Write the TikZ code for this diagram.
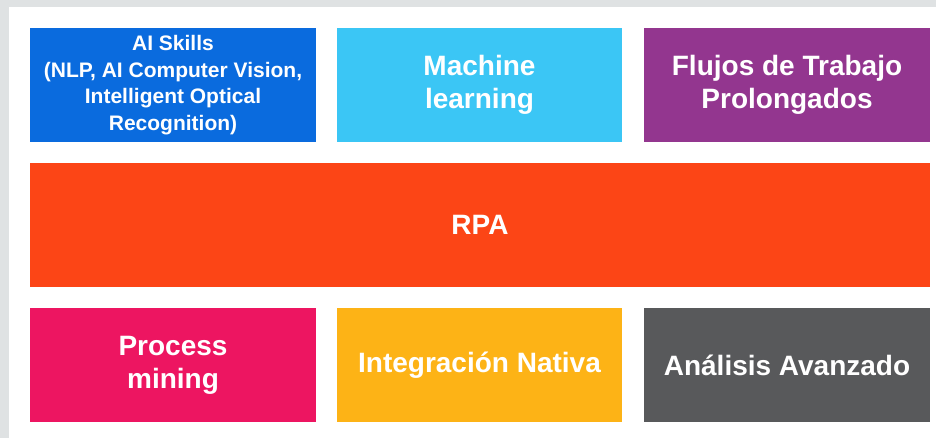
\documentclass[tikz,border=0pt]{standalone}
\usepackage{fontspec}
\setmainfont{Liberation Sans}
\definecolor{fondo}{HTML}{DFE2E3}
\definecolor{azul}{HTML}{0A6BDE}
\definecolor{celeste}{HTML}{3BC6F5}
\definecolor{morado}{HTML}{93368F}
\definecolor{naranja}{HTML}{FC4516}
\definecolor{rosa}{HTML}{ED1561}
\definecolor{amarillo}{HTML}{FDB316}
\definecolor{gris}{HTML}{58595B}
\tikzset{
  bloque/.style={minimum width=286pt, minimum height=114pt, inner sep=0pt,
    align=center, text=white, font=\bfseries\fontsize{28}{33}\selectfont},
  chico/.style={font=\bfseries\fontsize{21}{26.5}\selectfont}
}
\begin{document}
\begin{tikzpicture}[x=1pt,y=1pt]
  % Fondo
  \fill[fondo] (0,0) rectangle (936,438);
  \fill[white] (9,0) rectangle (936,431);
  \useasboundingbox (0,0) rectangle (936,438);
  % Fila superior
  \node[bloque, chico, fill=azul] (skills) at (173,353)
    {AI Skills\\(NLP, AI Computer Vision,\\Intelligent Optical\\Recognition)};
  \node[bloque, fill=celeste, minimum width=285pt] (ml) at (479.5,353) {Machine\\learning};
  \node[bloque, fill=morado] (flujos) at (787,353) {Flujos de Trabajo\\Prolongados};
  % Capa central
  \node[bloque, fill=naranja, minimum width=900pt, minimum height=124pt] (rpa) at (480,213) {RPA};
  % Fila inferior
  \node[bloque, fill=rosa] (pm) at (173,73) {Process\\mining};
  \node[bloque, fill=amarillo, minimum width=285pt] (integ) at (479.5,73) {Integración Nativa};
  \node[bloque, fill=gris] (analisis) at (787,73) {Análisis Avanzado};
\end{tikzpicture}
\end{document}
